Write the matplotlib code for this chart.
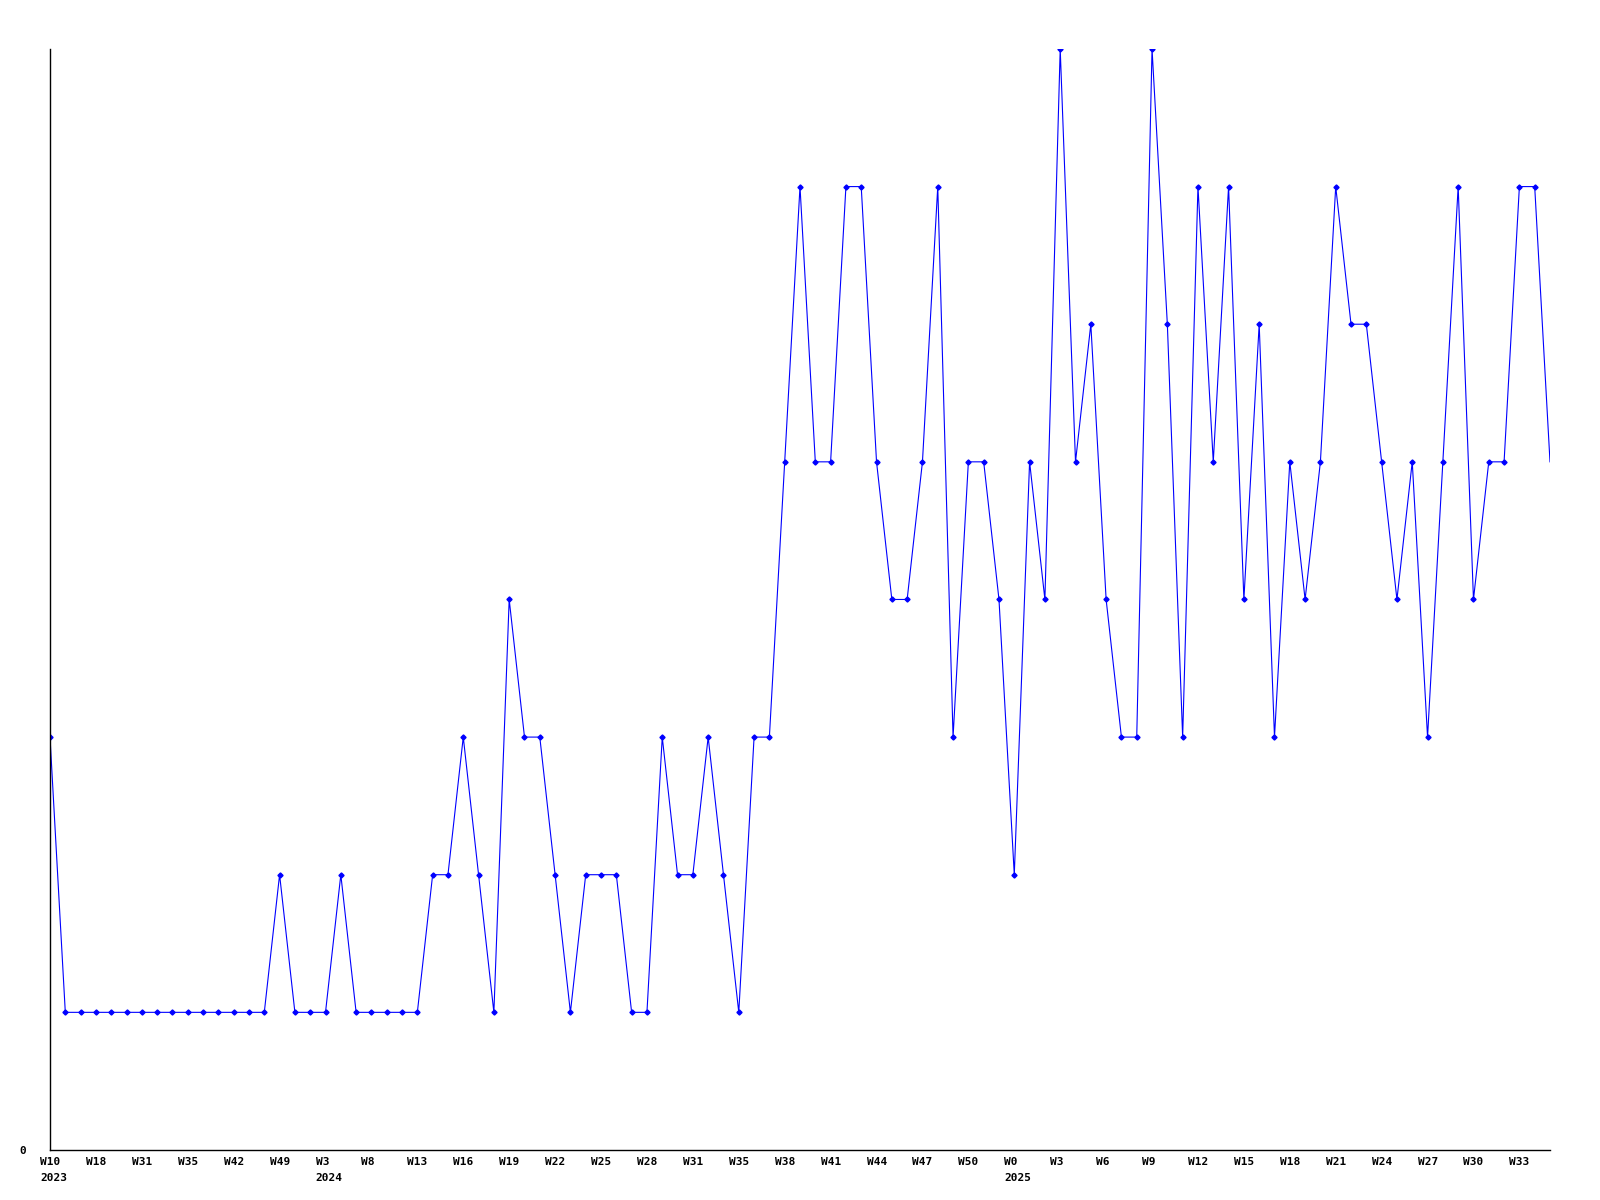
import numpy as np
import matplotlib
matplotlib.use("Agg")
import matplotlib.pyplot as plt
from matplotlib.transforms import ScaledTranslation

# weekly counts, one per data point
values = [3, 1, 1, 1, 1, 1, 1, 1, 1, 1, 1, 1, 1, 1, 1, 2, 1, 1, 1, 2,
          1, 1, 1, 1, 1, 2, 2, 3, 2, 1, 4, 3, 3, 2, 1, 2, 2, 2, 1, 1,
          3, 2, 2, 3, 2, 1, 3, 3, 5, 7, 5, 5, 7, 7, 5, 4, 4, 5, 7, 3,
          5, 5, 4, 2, 5, 4, 8, 5, 6, 4, 3, 3, 8, 6, 3, 7, 5, 7, 4, 6,
          3, 5, 4, 5, 7, 6, 6, 5, 4, 5, 3, 5, 7, 4, 5, 5, 7, 7, 5]

# every third point gets a label
tick_weeks = ["W10", "W18", "W31", "W35", "W42", "W49", "W3", "W8", "W13",
              "W16", "W19", "W22", "W25", "W28", "W31", "W35", "W38", "W41",
              "W44", "W47", "W50", "W0", "W3", "W6", "W9", "W12", "W15",
              "W18", "W21", "W24", "W27", "W30", "W33"]
tick_years = {0: "2023", 6: "2024", 21: "2025"}

x = np.arange(len(values))
tick_pos = x[::3][:len(tick_weeks)]
tick_labels = []
for i, w in enumerate(tick_weeks):
    if i in tick_years:
        tick_labels.append(w + "\n" + tick_years[i])
    else:
        tick_labels.append(w)

fig = plt.figure(figsize=(16, 12), dpi=100)
ax = fig.add_axes([0.03125, 0.0417, 0.9375, 0.9175])

ax.plot(x, values, color="#0000ff", lw=0.8, marker="D", ms=2.6,
        markevery=list(range(len(values) - 1)))

ax.set_xlim(0, len(values) - 1)
ax.set_ylim(0, 8)

for s in ["top", "right"]:
    ax.spines[s].set_visible(False)
ax.spines["left"].set_linewidth(1)
ax.spines["bottom"].set_linewidth(1)

ax.set_yticks([0])
ax.set_yticklabels(["0"], fontfamily="DejaVu Sans Mono", fontweight="bold", fontsize=8)
ax.tick_params(axis="y", length=0, pad=17)

ax.set_xticks(tick_pos)
ax.set_xticklabels(tick_labels, fontfamily="DejaVu Sans Mono", fontweight="bold",
                   fontsize=8, ha="left", linespacing=1.75)
ax.tick_params(axis="x", length=0, pad=5)
offset = ScaledTranslation(-10 / 100, 0, fig.dpi_scale_trans)
for lab in ax.get_xticklabels():
    lab.set_transform(lab.get_transform() + offset)

fig.savefig("out.png", dpi=100)
